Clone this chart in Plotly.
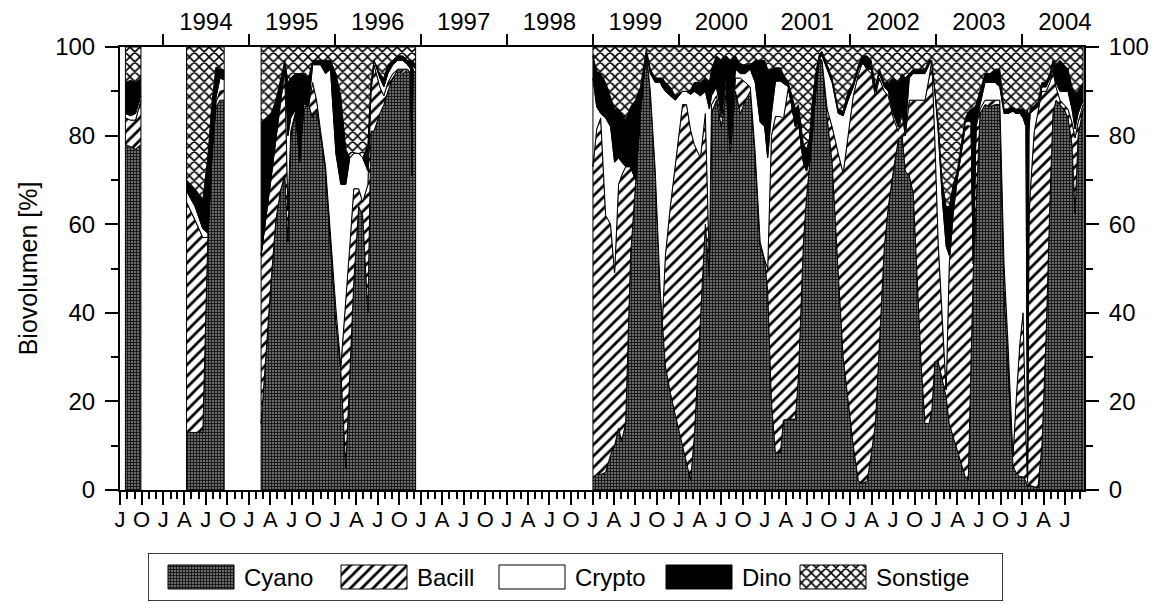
import pandas as pd
import plotly.graph_objects as go

# ---------------- data (percent of biovolume) ----------------
dates = [
    "1993-07-24", "1993-08-15", "1993-09-05", "1993-09-28",
    "1994-04-10", "1994-05-16", "1994-06-18", "1994-07-09", "1994-07-28", "1994-08-13", "1994-08-30", "1994-09-17",
    "1995-02-21", "1995-03-14", "1995-04-04", "1995-04-25", "1995-05-16", "1995-06-02", "1995-06-15", "1995-06-27",
    "1995-07-18", "1995-08-04", "1995-08-21", "1995-09-11", "1995-09-28", "1995-10-15", "1995-11-01", "1995-11-22",
    "1995-12-13", "1996-01-05", "1996-01-26", "1996-02-16", "1996-03-04", "1996-03-21", "1996-04-11", "1996-04-28",
    "1996-05-20", "1996-06-02", "1996-06-15", "1996-07-10", "1996-07-27", "1996-08-13", "1996-09-03", "1996-09-24",
    "1996-10-15", "1996-11-05", "1996-11-18", "1996-11-24", "1996-11-27", "1996-12-09",
    "1999-01-02", "1999-01-18", "1999-02-04", "1999-02-25", "1999-03-18", "1999-04-04", "1999-04-21", "1999-05-04",
    "1999-05-21", "1999-06-11", "1999-07-02", "1999-07-23", "1999-08-17", "1999-09-03", "1999-09-24", "1999-10-15",
    "1999-10-24", "1999-11-06", "1999-11-27", "1999-12-18", "2000-01-18", "2000-02-04", "2000-02-21", "2000-03-08",
    "2000-04-03", "2000-04-24", "2000-05-11", "2000-05-20", "2000-06-10", "2000-07-01", "2000-07-22", "2000-08-08",
    "2000-08-30", "2000-09-20", "2000-10-11", "2000-11-01", "2000-11-22", "2000-12-13", "2001-01-01", "2001-01-14",
    "2001-01-30", "2001-02-16", "2001-03-09", "2001-03-22", "2001-04-12", "2001-05-12", "2001-05-25", "2001-06-15",
    "2001-06-28", "2001-07-10", "2001-07-23", "2001-08-09", "2001-08-22", "2001-09-02", "2001-09-24", "2001-10-15",
    "2001-11-10", "2001-12-01", "2001-12-22", "2002-01-13", "2002-02-04", "2002-02-21", "2002-03-13", "2002-03-30",
    "2002-04-17", "2002-05-04", "2002-05-25", "2002-06-11", "2002-07-02", "2002-07-23", "2002-08-09", "2002-08-22",
    "2002-09-08", "2002-09-25", "2002-10-12", "2002-10-29", "2002-11-14", "2002-12-01", "2002-12-13", "2002-12-26",
    "2003-01-09", "2003-01-26", "2003-02-12", "2003-02-25", "2003-03-14", "2003-03-31", "2003-04-17", "2003-05-04",
    "2003-05-17", "2003-05-29", "2003-06-07", "2003-06-19", "2003-07-06", "2003-07-27", "2003-08-17", "2003-09-08",
    "2003-09-28", "2003-10-16", "2003-11-02", "2003-11-23", "2003-12-05", "2003-12-22", "2004-01-05", "2004-01-17",
    "2004-01-24", "2004-01-30", "2004-02-04", "2004-02-21", "2004-03-08", "2004-03-25", "2004-04-12", "2004-04-28",
    "2004-05-11", "2004-05-24", "2004-06-10", "2004-06-27", "2004-07-14", "2004-07-31", "2004-08-13", "2004-08-26",
    "2004-09-16",
]

cyano = [
    78, 77.5, 77, 78,
    13, 13, 13, 56, 76, 86.5, 88, 88,
    15, 31, 47, 61, 68, 71, 56, 80,
    85, 74, 86, 87, 84, 86, 80, 72,
    55, 38, 27, 5, 24, 47, 64, 62,
    40, 81, 81, 85, 87, 90, 93, 95,
    94, 95, 94, 71, 95, 94,
    3, 3.5, 3.5, 4, 8, 10, 14, 11,
    15, 53, 69, 85, 99, 90, 72, 45,
    38, 28, 22, 17, 10, 6, 2.3, 12,
    38, 60, 48, 85, 88, 82, 90, 76,
    90, 85, 88, 90, 75, 55, 52, 45,
    20, 8.3, 8.3, 15.8, 16, 16, 26, 56,
    66, 72, 80, 92, 97.5, 97, 84, 74,
    49, 30, 20, 10, 2, 1.5, 2, 8,
    15, 33, 55, 64, 72, 79, 80, 72,
    71, 67, 48, 28, 15, 15, 18, 29,
    29, 25, 21, 15, 12, 9, 6, 3,
    2.3, 30, 49, 62, 85, 87, 86.5, 87,
    87, 45, 27, 5.5, 4, 3, 3, 2,
    0.7, 1, 1, 0.8, 0.5, 10, 35, 65,
    85, 88, 87, 86, 84, 78, 62.5, 80,
    86,
]

bacill = [
    6, 6, 6.5, 10,
    52, 48, 44, 1, 1, 1, 2, 2.3,
    38, 31, 23, 18, 20, 24, 7, 1,
    0.5, 1, 0.5, 0, 8, 2, 1, 1,
    2, 3, 1, 38, 31, 21, 4, 3,
    29, 9, 15, 6, 2, 2, 1, 0,
    1, 0, 0, 0, 0, 0,
    70, 78, 80.5, 58, 52, 39, 55, 60,
    58, 20, 1, 0.5, 0, 0, 0, 0,
    0, 25, 42, 56, 77, 81, 79, 66,
    37, 25, 3, 2, 1, 2, 2, 2,
    3, 8, 4, 1, 1, 1, 0, 5,
    60, 76, 76, 68, 75, 66, 57, 18,
    6, 2, 1, 0, 0, 0, 2, 8,
    27, 41.5, 60, 79, 92, 95, 93, 86,
    74, 60, 35, 25, 12, 2, 5, 8,
    17, 21, 40, 60, 73, 78, 79, 50,
    27, 13, 1.6, 36, 50.5, 61, 70, 79,
    80, 52, 2, 20, 1, 1, 1.5, 1,
    1, 6, 6, 2, 15, 30, 37, 10,
    1, 60, 66, 80, 85, 80, 55, 27,
    10, 3, 1, 1, 2, 5, 17, 3,
    1,
]

crypto = [
    1, 1, 1.5, 1,
    2.5, 3, 2, 1, 1, 1, 3, 2.3,
    0, 0, 0, 0, 1, 2, 17, 3,
    0.5, 0, 0.5, 0, 4, 8, 15, 21,
    38, 35, 41, 26, 20, 8, 8, 10,
    3, 1, 1, 2, 2, 2, 2, 2,
    2, 1, 1, 0, 1, 1,
    20, 5, 1, 22, 22, 25, 6, 3,
    0, 0, 0, 0.5, 0, 4, 20, 47,
    53, 37, 25, 15, 3, 3, 8, 12,
    14, 5, 35, 2, 2, 1, 2, 1,
    2, 1, 2, 4, 16, 27, 30, 25,
    5, 8, 8, 8, 0, 0, 0, 0,
    0, 1, 1, 0, 0, 1, 9, 10,
    9, 13, 8, 2, 1, 0, 0, 1,
    1, 1, 1, 1, 1, 1, 1, 1,
    5, 6, 6, 6, 6, 3, 0, 11,
    25, 28, 32.4, 2, 1.5, 1, 1, 1,
    1, 1, 1, 1, 1, 4, 4, 4,
    3, 34, 52, 78, 66, 52, 44, 70,
    1, 20, 18, 5, 1, 1, 1, 1,
    1, 1, 2, 3, 4, 3, 2, 2,
    1,
]

dino = [
    7, 8, 7, 4,
    2.5, 4, 6.5, 17, 10, 7, 2, 2.2,
    30, 22, 15, 9, 4, 0, 12, 9,
    8, 19, 7, 6, 1, 1, 1, 3,
    2, 18, 20, 8, 0, 0, 0, 0,
    6, 1, 0, 1, 2, 2, 1, 1,
    1, 1, 2, 26, 1, 1,
    5, 8, 9, 8, 6.5, 12, 11, 11,
    10.5, 13.5, 18, 5, 0.5, 1, 1, 1,
    2, 2, 2, 1, 0, 0, 1, 2,
    3, 3, 6, 6, 7, 12, 4, 18,
    3, 2, 2, 1, 5, 14, 15, 20,
    10, 3, 3, 2, 1, 4, 4, 4,
    5, 4, 6, 3, 1, 1, 1, 1,
    1, 1, 2, 1, 1, 1.5, 3, 2,
    1, 1, 1, 2, 8, 10, 8, 12,
    1, 1, 1, 1, 1, 1, 0, 0,
    2, 3.5, 9, 11, 5, 1, 1, 1,
    2, 3, 34, 4, 3, 2, 2, 3,
    4, 1, 1, 1, 1, 1, 2, 3,
    83, 3, 1, 1, 1, 1, 1, 1,
    1, 4, 7, 6, 5, 5, 8, 5,
    4,
]

sonstige = [
    8, 7.5, 8, 7,
    30, 32, 34.5, 25, 12, 4.5, 5, 5.2,
    17, 16, 15, 12, 7, 3, 8, 7,
    6, 6, 6, 7, 3, 3, 3, 3,
    3, 6, 11, 23, 25, 24, 24, 25,
    22, 8, 3, 6, 7, 4, 3, 2,
    2, 3, 3, 3, 3, 4,
    2, 5.5, 6, 8, 11.5, 14, 14, 15,
    16.5, 13.5, 12, 9, 0.5, 5, 7, 7,
    7, 8, 9, 11, 10, 10, 9.7, 8,
    8, 7, 8, 5, 2, 3, 2, 3,
    2, 4, 4, 4, 3, 3, 3, 5,
    5, 4.7, 4.7, 6.2, 8, 14, 13, 22,
    23, 21, 12, 5, 1.5, 1, 4, 7,
    14, 14.5, 10, 8, 4, 2, 2, 3,
    9, 5, 8, 8, 7, 8, 6, 7,
    6, 5, 5, 5, 5, 3, 3, 10,
    17, 30.5, 36, 36, 31, 28, 22, 16,
    14.7, 14, 14, 13, 10, 6, 6, 5,
    5, 14, 14, 13.5, 14, 14, 14, 15,
    14.3, 16, 14, 13.2, 12.5, 8, 8, 6,
    3, 4, 3, 4, 5, 9, 10.5, 10,
    8,
]

group_names = ["Cyano", "Bacill", "Crypto", "Dino", "Sonstige"]
group_values = [cyano, bacill, crypto, dino, sonstige]

# ---------------- styles ----------------
FONT = "Liberation Sans, Arial, sans-serif"
styles = [
    dict(fillcolor="#4a4a4a", pattern=dict(shape="+", fgcolor="#111111", bgcolor="#6c6c6c", size=3, solidity=0.5)),
    dict(fillcolor="white", pattern=dict(shape="/", fgcolor="black", bgcolor="white", size=8, solidity=0.35)),
    dict(fillcolor="white", pattern=None),
    dict(fillcolor="black", pattern=None),
    dict(fillcolor="white", pattern=dict(shape="x", fgcolor="black", bgcolor="white", size=7, solidity=0.4)),
]

# ---------------- segments (gaps in sampling) ----------------
dt = pd.to_datetime(dates)
starts = [0] + [i for i in range(1, len(dt)) if (dt[i] - dt[i - 1]).days > 90]
bounds = list(zip(starts, starts[1:] + [len(dt)]))

fig = go.Figure()
lower = [0.0] * len(dates)
for name, vals, st in zip(group_names, group_values, styles):
    upper = [a + b for a, b in zip(lower, vals)]
    xs, ys = [], []
    for s, e in bounds:
        seg = dates[s:e]
        xs += seg + seg[::-1] + [seg[0], None]
        ys += upper[s:e] + lower[s:e][::-1] + [upper[s], None]
    kw = dict(fillpattern=st["pattern"]) if st["pattern"] else {}
    fig.add_trace(go.Scatter(
        x=xs, y=ys, mode="lines", fill="toself", fillcolor=st["fillcolor"],
        line=dict(color="black", width=1), name=name, showlegend=False,
        hoverinfo="skip", **kw))
    lower = upper

# ---------------- axes ----------------
x_range = ["1993-07-01", "2004-09-20"]
quarters = pd.date_range("1993-07-01", "2004-07-01", freq="QS-JAN")
months = pd.date_range("1993-07-01", "2004-09-01", freq="MS")
years = list(range(1994, 2005))

W, H = 1158, 604
L, R, T, B = 120, 1084, 47, 490

axis_common = dict(showline=True, linecolor="black", linewidth=2, showgrid=False, zeroline=False,
                   ticks="outside", tickcolor="black", tickwidth=1.5, automargin=False)

fig.update_layout(
    template="none",
    width=W, height=H, margin=dict(l=0, r=0, t=0, b=0, pad=0), autosize=False,
    paper_bgcolor="white", plot_bgcolor="white",
    font=dict(family=FONT, color="black", size=22),
    showlegend=False,
    xaxis=dict(type="date", range=x_range, domain=[L / W, R / W], anchor="y",
               tickmode="array", tickvals=quarters, ticktext=[d.strftime("%b")[0] for d in quarters],
               ticklen=13, tickfont=dict(size=22), ticklabelstandoff=-4,
               minor=dict(tickmode="array", tickvals=months, ticklen=7, ticks="outside",
                          tickcolor="black", tickwidth=1.5),
               **axis_common),
    xaxis2=dict(type="date", range=x_range, overlaying="x", side="top", anchor="y",
                tickmode="array", tickvals=[f"{y}-01-01" for y in years], ticktext=[""] * len(years),
                ticklen=11, **axis_common),
    xaxis3=dict(type="date", range=x_range, overlaying="x", side="top", anchor="y",
                tickmode="array", tickvals=[f"{y}-07-01" for y in years], ticktext=[str(y) for y in years],
                ticks="outside", ticklen=6, tickcolor="rgba(0,0,0,0)", showline=False, showgrid=False,
                zeroline=False, tickfont=dict(size=24), automargin=False),
    yaxis=dict(range=[0, 100], domain=[(H - B) / H, (H - T) / H], anchor="x",
               tickmode="array", tickvals=[0, 20, 40, 60, 80, 100], ticklen=13, tickfont=dict(size=24),
               ticklabelstandoff=5,
               minor=dict(tickmode="array", tickvals=[10, 30, 50, 70, 90], ticklen=7, ticks="outside",
                          tickcolor="black", tickwidth=1.5),
               title=dict(text="Biovolumen [%]", font=dict(size=25), standoff=10),
               **axis_common),
    yaxis2=dict(range=[0, 100], overlaying="y", side="right", anchor="x",
                tickmode="array", tickvals=[0, 20, 40, 60, 80, 100], ticklen=13, tickfont=dict(size=24),
                ticklabelstandoff=5,
                minor=dict(tickmode="array", tickvals=[10, 30, 50, 70, 90], ticklen=7, ticks="outside",
                           tickcolor="black", tickwidth=1.5),
                **axis_common),
    # axis pair used for the legend box at the bottom
    xaxis4=dict(domain=[148 / W, 1003 / W], range=[0, 855], anchor="y4", visible=False, fixedrange=True),
    yaxis4=dict(domain=[3 / H, 51 / H], range=[0, 48], anchor="x4", visible=False, fixedrange=True),
)

# dummy traces so the overlaying axes are drawn
for xa, ya in [("x2", "y"), ("x3", "y"), ("x", "y2")]:
    fig.add_trace(go.Scatter(x=x_range, y=[0, 0], xaxis=xa, yaxis=ya, mode="none",
                             showlegend=False, hoverinfo="skip"))

# ---------------- legend (drawn) ----------------
swatch_x = [20, 193, 351, 518, 652]
sw_w, sw_y0, sw_y1 = 66, 12, 36
for name, st, x0 in zip(group_names, styles, swatch_x):
    kw = dict(fillpattern=st["pattern"]) if st["pattern"] else {}
    fig.add_trace(go.Scatter(
        x=[x0, x0 + sw_w, x0 + sw_w, x0, x0], y=[sw_y0, sw_y0, sw_y1, sw_y1, sw_y0],
        xaxis="x4", yaxis="y4", mode="lines", fill="toself", fillcolor=st["fillcolor"],
        line=dict(color="black", width=1), showlegend=False, hoverinfo="skip", **kw))
    fig.add_annotation(x=x0 + sw_w + 8, y=(sw_y0 + sw_y1) / 2, xref="x4", yref="y4", text=name,
                       showarrow=False, xanchor="left", yanchor="middle", font=dict(size=24))

fig.add_shape(type="rect", xref="x4", yref="y4", x0=0, x1=855, y0=0, y1=48,
              line=dict(color="black", width=1.5), fillcolor="rgba(0,0,0,0)", layer="below")

fig.write_html("out.html")
